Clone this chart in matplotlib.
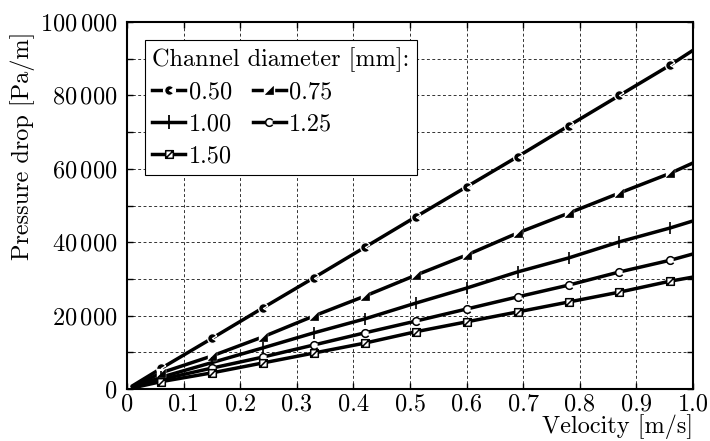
import numpy as np
import matplotlib
matplotlib.use("Agg")
import matplotlib.pyplot as plt
from matplotlib.path import Path
from matplotlib.lines import Line2D

plt.rcParams["font.family"] = "serif"
plt.rcParams["font.serif"] = ["cmr10", "DejaVu Serif"]
plt.rcParams["mathtext.fontset"] = "cm"
plt.rcParams["axes.unicode_minus"] = False

# velocity samples [m/s] and pressure drop [kPa/m] per channel diameter
velocity = [0.01, 0.06, 0.15, 0.24, 0.33, 0.42, 0.51, 0.60, 0.69, 0.78, 0.87, 0.96, 1.00]
dp_050 = [0.9, 5.6, 13.8, 22.1, 30.3, 38.6, 46.9, 55.1, 63.3, 71.7, 80.0, 88.3, 92.3]
dp_075 = [0.6, 4.4, 9.0, 14.2, 19.9, 25.3, 31.0, 36.5, 42.5, 47.9, 53.4, 58.8, 61.6]
dp_100 = [0.5, 3.2, 7.2, 11.2, 15.3, 19.1, 23.4, 27.5, 31.9, 35.7, 40.1, 43.9, 45.8]
dp_125 = [0.4, 2.6, 5.7, 8.7, 12.0, 15.3, 18.5, 21.8, 25.1, 28.3, 31.9, 35.1, 36.8]
dp_150 = [0.3, 2.0, 4.4, 7.1, 9.8, 12.5, 15.6, 18.3, 21.0, 23.7, 26.4, 29.4, 30.5]
diam_labels = ["0.50", "0.75", "1.00", "1.25", "1.50"]

xtick_vals = [0, 0.1, 0.2, 0.3, 0.4, 0.5, 0.6, 0.7, 0.8, 0.9, 1.0]
xtick_labels = ["0", "0.1", "0.2", "0.3", "0.4", "0.5", "0.6", "0.7", "0.8", "0.9", "1.0"]
ytick_vals = [0, 10000, 20000, 30000, 40000, 50000, 60000, 70000, 80000, 90000, 100000]
ytick_labels = ["$0$", "", r"$20\,000$", "", r"$40\,000$", "", r"$60\,000$", "",
                r"$80\,000$", "", r"$100\,000$"]

# marker shapes
c_filled = Path.wedge(30, 330)
c_open = Path.arc(35, 325)
tri = Path([(-1, -1), (1, -1), (1, 1), (-1, -1)],
           [Path.MOVETO, Path.LINETO, Path.LINETO, Path.CLOSEPOLY])
sq_slash = Path([(-1, -1), (1, -1), (1, 1), (-1, 1), (-1, -1), (-1, -1), (1, 1)],
                [Path.MOVETO, Path.LINETO, Path.LINETO, Path.LINETO, Path.CLOSEPOLY,
                 Path.MOVETO, Path.LINETO])

LW = 2.5
MS = 5.5
FS = 17.5
every = slice(1, 12)

fig = plt.figure(figsize=(7.1, 4.41), dpi=100)
ax = fig.add_axes([0.1789, 0.1179, 0.7972, 0.8322])

x = np.array(velocity)
series = [np.array(d) * 1000 for d in (dp_050, dp_075, dp_100, dp_125, dp_150)]

handles = []
# 0.50 mm: filled notched circle with white rim
ax.plot(x, series[0], "k-", lw=LW, zorder=3)
ax.plot(x[every], series[0][every], ls="none", marker=c_filled, ms=MS + 1.5, mfc="k",
        mec="white", mew=0.9, zorder=4)
handles.append((Line2D([], [], color="k", lw=LW),
                Line2D([], [], ls="none", marker="o", ms=MS + 3, mfc="white", mec="white"),
                Line2D([], [], ls="none", marker=c_filled, ms=MS + 1.5, mfc="k", mec="white", mew=0.9)))

# 0.75 mm: half filled square
ax.plot(x, series[1], "k-", lw=LW, zorder=3)
ax.plot(x[every], series[1][every], ls="none", marker="s", ms=MS, mfc="white",
        mec="white", mew=1.0, zorder=4)
ax.plot(x[every], series[1][every], ls="none", marker=tri, ms=MS, mfc="k",
        mec="k", mew=0.5, zorder=5)
handles.append((Line2D([], [], color="k", lw=LW),
                Line2D([], [], ls="none", marker="s", ms=MS + 1, mfc="white", mec="white"),
                Line2D([], [], ls="none", marker=tri, ms=MS, mfc="k", mec="k", mew=0.5)))

# 1.00 mm: vertical tick
ax.plot(x, series[2], "k-", lw=LW, zorder=3)
ax.plot(x[every], series[2][every], ls="none", marker="|", ms=MS + 2.5, mec="k",
        mew=1.2, zorder=4)
handles.append((Line2D([], [], color="k", lw=LW),
                Line2D([], [], ls="none", marker="|", ms=MS + 4, mec="k", mew=1.3)))

# 1.25 mm: open notched circle
ax.plot(x, series[3], "k-", lw=LW, zorder=3)
ax.plot(x[every], series[3][every], ls="none", marker=c_open, ms=MS, mfc="white",
        mec="k", mew=1.1, zorder=4)
handles.append((Line2D([], [], color="k", lw=LW),
                Line2D([], [], ls="none", marker=c_open, ms=MS, mfc="white", mec="k", mew=1.1)))

# 1.50 mm: open square with slash
ax.plot(x, series[4], "k-", lw=LW, zorder=3)
ax.plot(x[every], series[4][every], ls="none", marker=sq_slash, ms=MS, mfc="white",
        mec="k", mew=1.1, zorder=4)
handles.append((Line2D([], [], color="k", lw=LW),
                Line2D([], [], ls="none", marker=sq_slash, ms=MS, mfc="white", mec="k", mew=1.1)))

ax.set_xlim(0, 1.0)
ax.set_ylim(0, 100000)
ax.set_xticks(xtick_vals)
ax.set_xticklabels(xtick_labels)
ax.set_yticks(ytick_vals)
ax.set_yticklabels(ytick_labels)
ax.tick_params(direction="in", length=4, width=1, top=True, right=True,
               labelsize=FS, pad=7)
ax.tick_params(axis="x", pad=3)
ax.grid(True, color="black", lw=0.7, ls=(0, (3, 2.5)), alpha=0.8)
ax.set_axisbelow(True)
for s in ax.spines.values():
    s.set_linewidth(1.5)

ax.set_xlabel("Velocity [m/s]", fontsize=FS, loc="right", labelpad=-1)
ax.set_ylabel("Pressure drop [Pa/m]", fontsize=FS, loc="top")
ax.yaxis.set_label_coords(-0.163, 0.975)

order = [0, 2, 4, 1, 3]
leg = ax.legend([handles[i] for i in order], [diam_labels[i] for i in order],
                title="Channel diameter [mm]:", title_fontsize=FS, fontsize=FS,
                ncol=2, loc="upper left", bbox_to_anchor=(0.032, 0.951),
                borderaxespad=0, fancybox=False, framealpha=1, edgecolor="black",
                handlelength=1.35, handletextpad=0.15, labelspacing=0.4,
                columnspacing=0.85, borderpad=0.3, alignment="left")
leg.get_frame().set_linewidth(0.8)

fig.savefig("out.png", dpi=100)
